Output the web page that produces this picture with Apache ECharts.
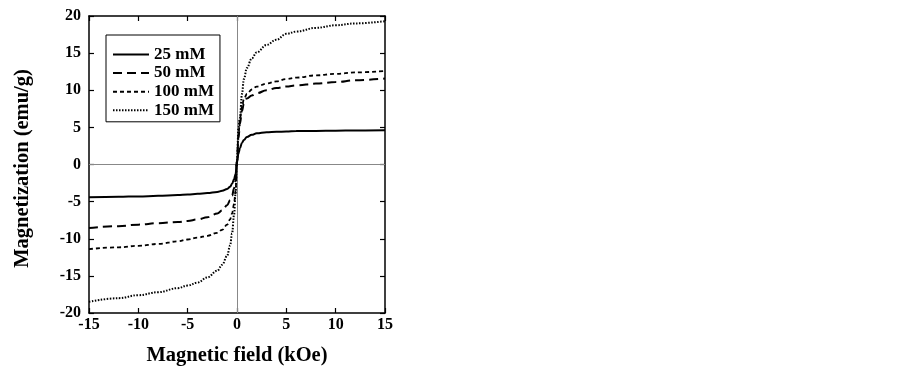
<!DOCTYPE html>
<html>
<head>
<meta charset="utf-8">
<script src="https://cdn.jsdelivr.net/npm/echarts@6/dist/echarts.min.js"></script>
<style>
  html, body { margin: 0; padding: 0; background: #fff; }
  #main { width: 902px; height: 372px; }
</style>
</head>
<body>
<div id="main"></div>
<script>
// magnetic field, kOe
var field = [-15, -12, -10, -8, -6, -5, -4, -3, -2, -1.5, -1, -0.7, -0.5, -0.3, -0.15, 0,
             0.15, 0.3, 0.5, 0.7, 1, 1.5, 2, 3, 4, 5, 6, 8, 10, 12, 15];
// magnetization, emu/g
var m25 = [-4.42, -4.35, -4.3, -4.22, -4.1, -4.05, -3.95, -3.85, -3.7, -3.55, -3.3, -3.0, -2.6, -2.0, -1.3, 0.3,
           1.5, 2.2, 2.9, 3.3, 3.7, 4.0, 4.2, 4.35, 4.4, 4.45, 4.5, 4.52, 4.55, 4.58, 4.6];
var m50 = [-8.56, -8.3, -8.1, -7.9, -7.75, -7.6, -7.4, -7.1, -6.6, -6.2, -5.5, -4.8, -4.2, -3.2, -2.2, 0.5,
           3.5, 5.5, 7.2, 8.2, 8.9, 9.3, 9.6, 10.0, 10.3, 10.5, 10.65, 10.9, 11.1, 11.35, 11.58];
var m100 = [-11.4, -11.15, -10.95, -10.7, -10.35, -10.1, -9.85, -9.6, -9.2, -8.8, -8.1, -7.4, -6.6, -5.3, -3.6, 0.5,
            4.0, 6.2, 7.8, 8.8, 9.5, 10.1, 10.5, 10.9, 11.2, 11.5, 11.7, 12.0, 12.2, 12.4, 12.6];
var m150 = [-18.5, -18.0, -17.6, -17.2, -16.65, -16.3, -15.9, -15.2, -14.3, -13.5, -12.3, -10.9, -9.3, -6.8, -4.0, 0.5,
            5.0, 6.3, 9.5, 11.5, 13.0, 14.3, 15.1, 16.1, 16.8, 17.6, 17.9, 18.4, 18.75, 19.0, 19.3];
var names = ['25 mM', '50 mM', '100 mM', '150 mM'];

function pairs(ys) {
    return field.map(function (x, i) { return [x, ys[i]]; });
}

var font = 'Liberation Serif';
var labelStyle = { fontFamily: font, fontWeight: 'bold', fontSize: 16, color: '#000' };
var nameStyle = { fontFamily: font, fontWeight: 'bold', fontSize: 20.5, color: '#000' };

function frameAxis(pos, isX, show) {
    return {
        type: 'value',
        position: pos,
        min: isX ? -15 : -20,
        max: isX ? 15 : 20,
        interval: 5,
        axisLine: { show: true, onZero: false, lineStyle: { color: '#000', width: 1.5 } },
        axisTick: { show: true, inside: true, length: 5, lineStyle: { color: '#000', width: 1.2 } },
        axisLabel: show ? Object.assign({ margin: isX ? 4 : 8 }, labelStyle) : { show: false },
        splitLine: { show: false }
    };
}

var xBottom = frameAxis('bottom', true, true);
xBottom.name = 'Magnetic field (kOe)';
xBottom.nameLocation = 'middle';
xBottom.nameGap = 32;
xBottom.nameTextStyle = nameStyle;

var yLeft = frameAxis('left', false, true);
yLeft.name = 'Magnetization (emu/g)';
yLeft.nameLocation = 'middle';
yLeft.nameGap = 56;
yLeft.nameTextStyle = Object.assign({ padding: [0, 8, 0, 0] }, nameStyle);

var dashes = ['solid', [9, 5], [4, 3], [1.5, 1.5]];
var widths = [2, 2, 1.8, 2];
var allData = [m25, m50, m100, m150];

var series = allData.map(function (ys, i) {
    return {
        name: names[i],
        type: 'line',
        data: pairs(ys),
        showSymbol: false,
        symbol: 'none',
        smooth: 0.4,
        smoothMonotone: 'x',
        z: 3,
        itemStyle: { color: '#000' },
        lineStyle: { color: '#000', width: widths[i], type: dashes[i] }
    };
});
series[0].markLine = {
    silent: true,
    symbol: 'none',
    label: { show: false },
    lineStyle: { color: '#888', width: 1, type: 'solid' },
    data: [{ xAxis: 0 }, { yAxis: 0 }],
    z: 1
};

var chart = echarts.init(document.getElementById('main'));
chart.setOption({
    backgroundColor: '#fff',
    animation: false,
    grid: { left: 89, right: 517, top: 16, bottom: 59 },
    legend: {
        data: names,
        orient: 'vertical',
        left: 106,
        top: 35,
        padding: [11, 6, 3, 6],
        itemGap: 1.6,
        itemWidth: 36,
        itemHeight: 14,
        borderColor: '#000',
        borderWidth: 1,
        backgroundColor: '#fff',
        itemStyle: { opacity: 0 },
        textStyle: Object.assign({}, labelStyle, { fontSize: 17 })
    },
    xAxis: [xBottom, frameAxis('top', true, false)],
    yAxis: [yLeft, frameAxis('right', false, false)],
    series: series
});
</script>
</body>
</html>
